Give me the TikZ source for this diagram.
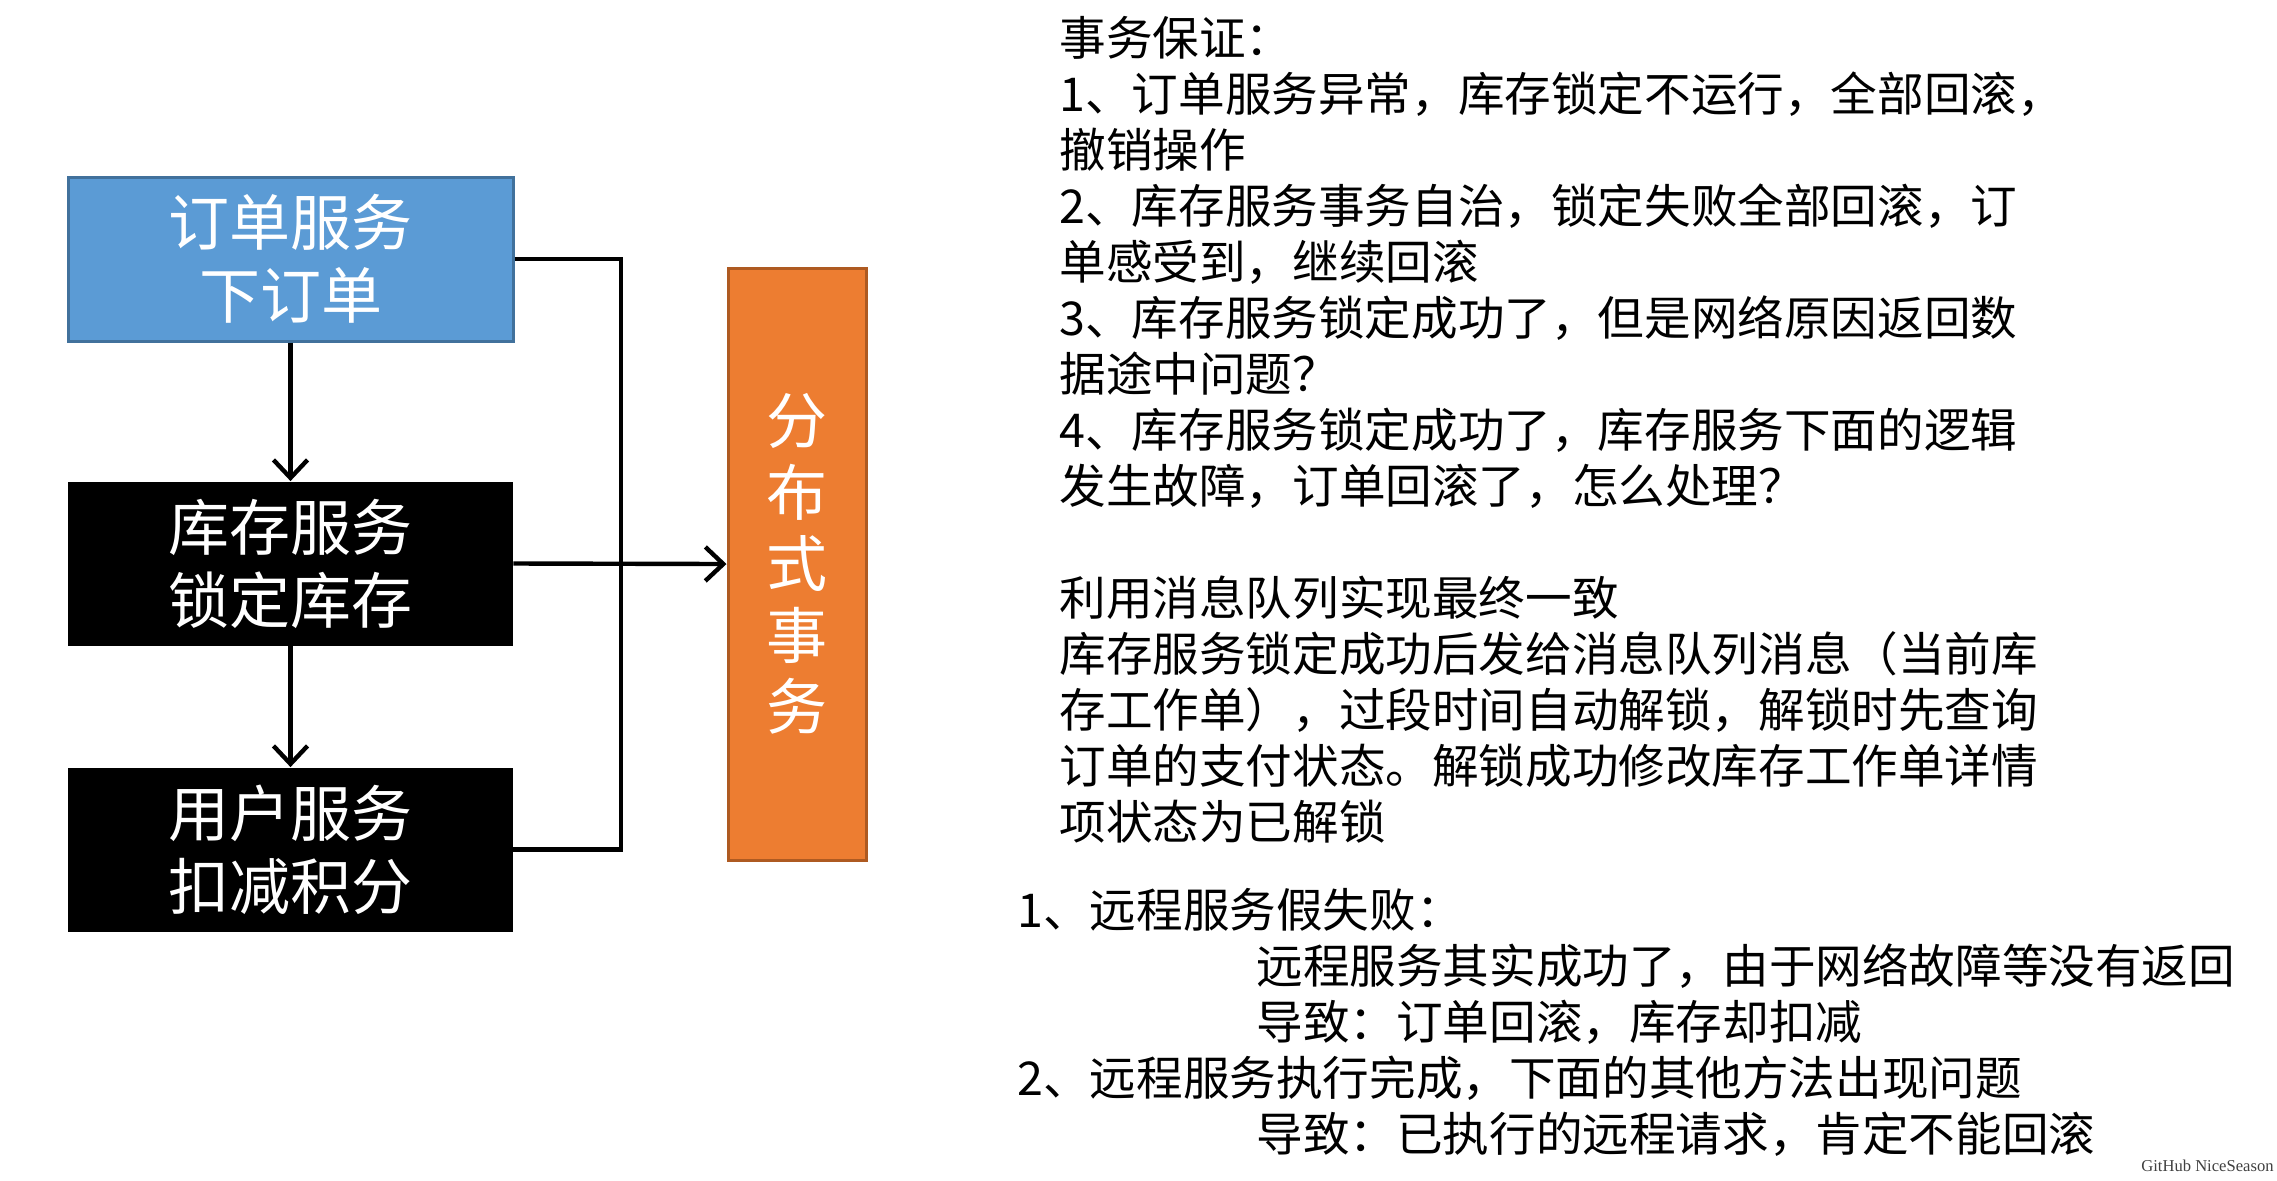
\documentclass[tikz,border=0pt]{standalone}
\usepackage{fontspec}
\setmainfont{Noto Sans CJK SC}
\newfontfamily\wmfont{Liberation Serif}
\usetikzlibrary{arrows.meta}
\definecolor{blueF}{HTML}{5B9BD5}
\definecolor{blueD}{HTML}{41719C}
\definecolor{orgF}{HTML}{ED7D31}
\definecolor{orgD}{HTML}{AE5A21}
\begin{document}
\begin{tikzpicture}[x=0.5pt,y=-0.5pt,
  box/.style={minimum width=222.5pt,minimum height=82pt,inner sep=0pt,align=center,text=white,font=\fontsize{30.5}{36.5}\selectfont},
  conn/.style={line width=2.2pt},
  arr/.style={conn,-{Straight Barb[length=9pt,width=17pt]}},
  txt/.style={anchor=west,inner sep=0pt,text height=0.88em,text depth=0.12em,font=\fontsize{23.3}{28}\selectfont}]
\useasboundingbox[fill=white] (0,0) rectangle (2277,1180);

\node[box,fill=blueF,draw=blueD,line width=1.5pt] (o) at (290.5,259) {订单服务\\下订单};
\node[box,fill=black] (k) at (290.5,563.5) {库存服务\\锁定库存};
\node[box,fill=black] (u) at (290.5,849.5) {用户服务\\扣减积分};
\node[fill=orgF,draw=orgD,line width=1.5pt,minimum width=69pt,minimum height=296pt,inner sep=0pt,align=center,text=white,font=\fontsize{30.5}{35.75}\selectfont] (f) at (797,564) {分\\布\\式\\事\\务};

\coordinate (bus) at (621,563.5);
\draw[conn] (o.east) -| (bus) |- (u.east);
\draw[arr] (k.east) -- (f.west);
\draw[arr] (o.south) -- (k.north);
\draw[arr] (k.south) -- (u.north);

\node[txt] (a1) at (1059,47.5) {事务保证：};
\node[txt] (a2) at (1059,103.5) {1、订单服务异常，库存锁定不运行，全部回滚，};
\node[txt] (a3) at (1059,159.5) {撤销操作};
\node[txt] (a4) at (1059,215.5) {2、库存服务事务自治，锁定失败全部回滚，订};
\node[txt] (a5) at (1059,271.5) {单感受到，继续回滚};
\node[txt] (a6) at (1059,327.5) {3、库存服务锁定成功了，但是网络原因返回数};
\node[txt] (a7) at (1059,383.5) {据途中问题？};
\node[txt] (a8) at (1059,439.5) {4、库存服务锁定成功了，库存服务下面的逻辑};
\node[txt] (a9) at (1059,495.5) {发生故障，订单回滚了，怎么处理？};

\node[txt] (b1) at (1059,608) {利用消息队列实现最终一致};
\node[txt] (b2) at (1059,664) {库存服务锁定成功后发给消息队列消息（当前库};
\node[txt] (b3) at (1059,720) {存工作单），过段时间自动解锁，解锁时先查询};
\node[txt] (b4) at (1059,776) {订单的支付状态。解锁成功修改库存工作单详情};
\node[txt] (b5) at (1059,832) {项状态为已解锁};

\node[txt] (c1) at (1017,919.5) {1、远程服务假失败：};
\node[txt] (c2) at (1256,976) {远程服务其实成功了，由于网络故障等没有返回};
\node[txt] (c3) at (1256,1032) {导致：订单回滚，库存却扣减};
\node[txt] (c4) at (1017,1088) {2、远程服务执行完成，下面的其他方法出现问题};
\node[txt] (c5) at (1256,1144) {导致：已执行的远程请求，肯定不能回滚};

\node[anchor=east,inner sep=0pt,font=\wmfont\fontsize{8.3}{9}\selectfont,text=black!75] (wm) at (2274,1166) {GitHub NiceSeason};
\end{tikzpicture}
\end{document}
